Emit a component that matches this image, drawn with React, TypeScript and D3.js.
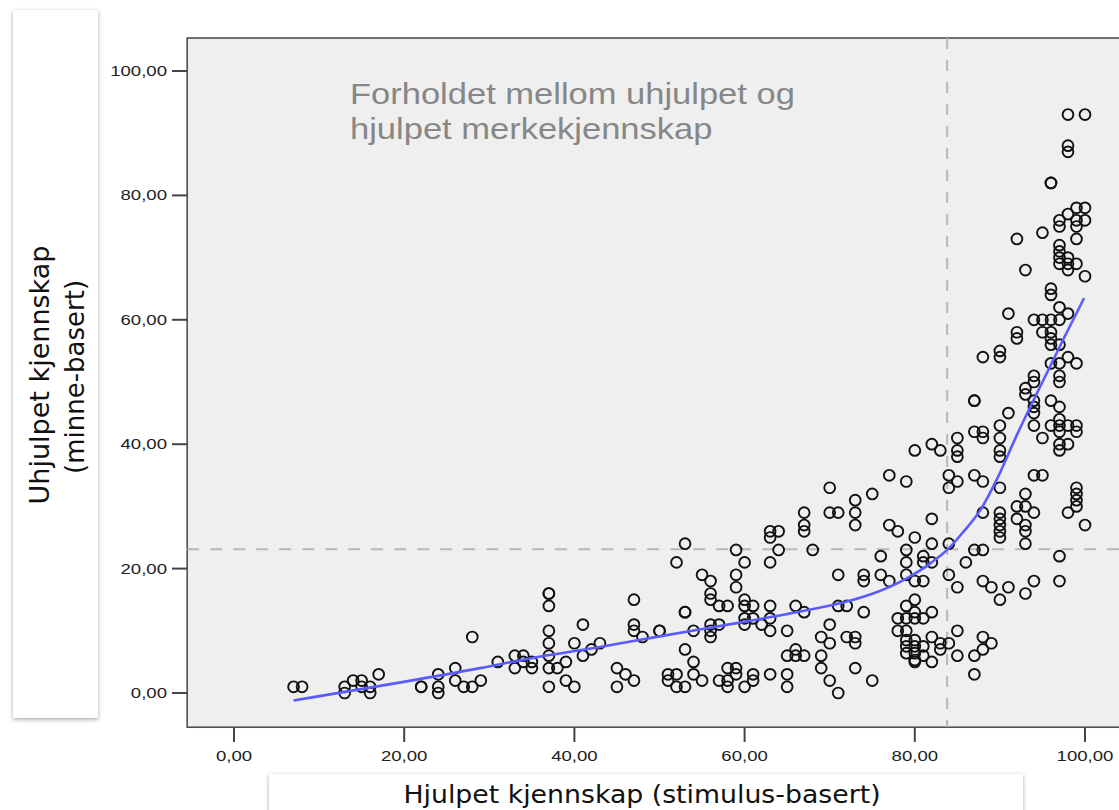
import React from "react";
import * as d3 from "d3";

// ---- data ----
const pointsX: number[] = [
  // x < 30
  7, 8, 13, 13, 14, 15, 15, 16, 16, 17, 22, 22, 24, 24, 24, 26, 26, 27, 28, 28, 29,
  // 30 - 60
  31, 33, 33, 34, 34, 35, 35, 37, 37, 37, 37, 37, 37, 37, 37, 38, 39, 39, 40, 40, 41, 41, 42, 43,
  45, 46, 45, 47, 47, 47, 47, 48, 50, 50, 51, 51, 52, 52, 53, 53, 52, 53, 53, 53, 54, 54, 54, 55,
  55, 56, 56, 56, 56, 56, 56, 57, 58, 57, 57, 58, 58, 58, 59, 60, 59, 59, 60, 60, 60, 60, 59, 59, 60,
  // 60 - 83
  77, 79, 70, 75, 73, 73, 73, 67, 70, 71, 67, 67, 63, 64, 63, 64, 68, 63, 77, 78, 80, 82, 82, 79,
  76, 79, 81, 81, 79, 80, 81, 71, 74, 74, 76, 77, 82, 61, 61, 63, 63, 62, 63, 65, 66, 67, 71, 72,
  74, 70, 69, 70, 72, 73, 73, 65, 66, 66, 67, 69, 69, 73, 70, 71, 75, 65, 65, 63, 61, 61, 79, 80,
  78, 79, 80, 80, 81, 82, 78, 79, 80, 79, 79, 80, 81, 79, 80, 81, 80, 80, 82, 82, 83, 80, 82, 83,
  // >= 83 (lower part)
  84, 85, 84, 87, 88, 90, 88, 90, 90, 90, 90, 90, 93, 92, 93, 94, 92, 93, 93, 93, 94, 95, 99, 99,
  99, 99, 98, 100, 84, 87, 88, 86, 84, 85, 88, 89, 91, 90, 93, 94, 97, 97, 85, 84, 83, 88, 89, 88,
  87, 85, 87,
  // top
  98, 100, 98, 98, 96, 96, 99, 100, 98, 97, 97, 99, 99, 100, 95, 92, 99, 97, 97, 97, 97, 98, 98, 99,
  93, 100, 98,
  // middle-right
  96, 96, 97, 98, 91, 94, 95, 96, 97, 95, 96, 92, 92, 96, 96, 97, 90, 90, 88, 98, 99, 96, 97, 94,
  94, 97, 97, 93, 93, 94, 94, 94, 96, 97, 87, 87, 91, 90, 87, 88, 88, 85, 85, 85, 90, 90, 90, 94,
  95, 96, 97, 98, 99, 97, 97, 99, 97, 97, 98,
];

const pointsY: number[] = [
  // x < 30
  1, 1, 1, 0, 2, 2, 1, 1, 0, 3, 1, 1, 3, 1, 0, 4, 2, 1, 1, 9, 2,
  // 30 - 60
  5, 6, 4, 6, 5, 5, 4, 16, 16, 14, 10, 8, 6, 4, 1, 4, 5, 2, 1, 8, 6, 11, 7, 8,
  4, 3, 1, 2, 15, 11, 10, 9, 10, 10, 3, 2, 3, 1, 1, 24, 21, 13, 13, 7, 5, 3, 10, 2,
  19, 18, 16, 15, 11, 10, 9, 14, 14, 11, 2, 4, 2, 1, 23, 21, 19, 17, 15, 14, 12, 11, 4, 3, 1,
  // 60 - 83
  35, 34, 33, 32, 31, 29, 27, 29, 29, 29, 27, 26, 26, 26, 25, 23, 23, 21, 27, 26, 25, 28, 24, 23,
  22, 21, 22, 21, 19, 18, 18, 19, 19, 18, 19, 18, 21, 14, 12, 14, 12, 11, 10, 10, 14, 13, 14, 14,
  13, 11, 9, 8, 9, 9, 8, 6, 7, 6, 6, 6, 4, 4, 2, 0, 2, 3, 1, 3, 3, 2, 14, 15,
  12, 12, 13, 12, 12, 13, 10, 8.5, 8.5, 10, 7.5, 7.5, 7.5, 6.4, 6.4, 6, 5.3, 5, 5, 9, 8, 39, 40, 39,
  // >= 83 (lower part)
  35, 34, 33, 35, 34, 33, 29, 29, 28, 27, 26, 25, 32, 30, 30, 29, 28, 27, 26, 24, 35, 35, 33, 32,
  31, 30, 29, 27, 24, 23, 23, 21, 19, 17, 18, 17, 17, 15, 16, 18, 22, 18, 10, 8, 7, 9, 8, 7,
  6, 6, 3,
  // top
  93, 93, 88, 87, 82, 82, 78, 78, 77, 76, 75, 76, 75, 76, 74, 73, 73, 72, 71, 70, 69, 70, 69, 69,
  68, 67, 68,
  // middle-right
  65, 64, 62, 61, 61, 60, 60, 60, 60, 58, 58, 58, 57, 57, 56, 56, 55, 54, 54, 54, 53, 53, 53, 51,
  50, 51, 50, 49, 48, 47, 46, 45, 47, 46, 47, 47, 45, 43, 42, 42, 41, 41, 39, 38, 41, 39, 38, 43,
  41, 43, 43, 43, 43, 44, 42, 42, 40, 39, 40,
];

// fitted (loess) line
const fitX: number[] = [7, 28.9, 35, 43, 50, 60.6, 67.3, 72, 75.1, 79, 81.8, 84.1, 85.7, 87.7, 89.7, 92, 95, 97.5, 99.9];
const fitY: number[] = [-1.2, 4.0, 5.6, 7.4, 9.1, 11.6, 13.3, 14.7, 16, 18.4, 20.8, 23.4, 25.9, 29.4, 34.5, 41.5, 50, 57, 63.5];

const xTicks: number[] = [0, 20, 40, 60, 80, 100];
const yTicks: number[] = [0, 20, 40, 60, 80, 100];
const refX = 83.8;
const refY = 23.1;

const titleLines: string[] = ["Forholdet mellom uhjulpet og", "hjulpet merkekjennskap"];
const yTitleLines: string[] = ["Uhjulpet kjennskap", "(minne-basert)"];
const xTitle = "Hjulpet kjennskap (stimulus-basert)";

const fmt = (v: number) => v.toFixed(2).replace(".", ",");

export default function App() {
  const x = d3.scaleLinear().domain([0, 100]).range([234, 1085]);
  const y = d3.scaleLinear().domain([0, 100]).range([693, 71]);

  const left = x(-5.5);
  const top = y(105.3);
  const bottom = y(-5.5);
  const right = 1125;

  const line = d3
    .line<number>()
    .x((_, i) => x(fitX[i]))
    .y((_, i) => y(fitY[i]))
    .curve(d3.curveMonotoneX);

  const sansA = "'Liberation Sans', Arial, sans-serif";
  const sansD = "'DejaVu Sans', Verdana, sans-serif";
  const sx = 1.2;

  return (
    <svg
      width={1119}
      height={810}
      style={{ position: "absolute", left: 0, top: 0, background: "#fff" }}
    >
      <defs>
        <filter id="shadow" x="-20%" y="-20%" width="140%" height="140%">
          <feDropShadow dx="0" dy="1.5" stdDeviation="2" floodColor="#000" floodOpacity="0.35" />
        </filter>
        <clipPath id="plotclip">
          <rect x={left} y={top} width={right - left} height={bottom - top} />
        </clipPath>
      </defs>

      {/* y title panel */}
      <rect x={13} y={10} width={85} height={708} fill="#fff" filter="url(#shadow)" />
      {/* x title panel */}
      <rect x={269} y={774} width={754} height={60} fill="#fff" filter="url(#shadow)" />

      {/* plot background */}
      <rect x={left} y={top} width={right - left} height={bottom - top} fill="#efefef" stroke="#505050" strokeWidth={1.6} />

      {/* ticks */}
      {yTicks.map((t) => (
        <g key={"yt" + t}>
          <line x1={172} x2={left} y1={y(t)} y2={y(t)} stroke="#444" strokeWidth={2} />
          <text
            transform={`translate(167,${y(t) + 5}) scale(${sx},1)`}
            textAnchor="end"
            fontFamily={sansA}
            fontSize={15.5}
            fill="#222"
          >
            {fmt(t)}
          </text>
        </g>
      ))}
      {xTicks.map((t) => (
        <g key={"xt" + t}>
          <line x1={x(t)} x2={x(t)} y1={bottom} y2={742} stroke="#444" strokeWidth={2} />
          <text
            transform={`translate(${x(t)},761) scale(${sx},1)`}
            textAnchor="middle"
            fontFamily={sansA}
            fontSize={15.5}
            fill="#222"
          >
            {fmt(t)}
          </text>
        </g>
      ))}

      <g clipPath="url(#plotclip)">
        {/* reference lines */}
        <line x1={x(refX)} x2={x(refX)} y1={top} y2={bottom} stroke="#b8b8b8" strokeWidth={2} strokeDasharray="11,11" />
        <line x1={left} x2={right} y1={y(refY)} y2={y(refY)} stroke="#b8b8b8" strokeWidth={2} strokeDasharray="12,11" />

        {/* annotation */}
        {titleLines.map((s, i) => (
          <text
            key={s}
            transform={`translate(350,${104 + i * 35}) scale(1.19,1)`}
            fontFamily={sansA}
            fontSize={29}
            fill="#878787"
          >
            {s}
          </text>
        ))}

        {/* points */}
        {pointsX.map((v, i) => (
          <circle
            key={"p" + i}
            cx={x(v)}
            cy={y(pointsY[i])}
            r={5.4}
            fill="none"
            stroke="#111"
            strokeWidth={1.9}
          />
        ))}

        {/* fit line */}
        <path d={line(fitX) || ""} fill="none" stroke="#5b5bff" strokeWidth={2.6} />
      </g>

      {/* axis titles */}
      <text
        transform={`translate(49,375) rotate(-90)`}
        textAnchor="middle"
        fontFamily={sansD}
        fontSize={27}
        fill="#111"
      >
        {yTitleLines[0]}
      </text>
      <text
        transform={`translate(84,377) rotate(-90)`}
        textAnchor="middle"
        fontFamily={sansD}
        fontSize={26}
        fill="#111"
      >
        {yTitleLines[1]}
      </text>
      <text
        transform={`translate(642,803) scale(1.07,1)`}
        textAnchor="middle"
        fontFamily={sansD}
        fontSize={25}
        fill="#111"
      >
        {xTitle}
      </text>
    </svg>
  );
}
